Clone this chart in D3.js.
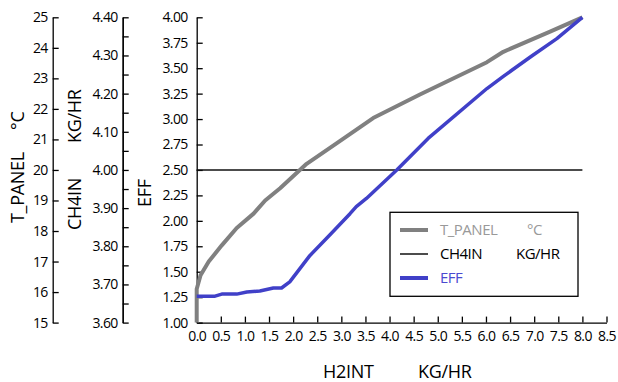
<!DOCTYPE html>
<html><head><meta charset="utf-8">
<script src="https://cdn.jsdelivr.net/npm/d3@7"></script>
<style>
body{margin:0;background:#fff;}
svg text{font-family:"Open Sans","Noto Sans",sans-serif;}
</style></head>
<body><svg id="c" width="618" height="382"></svg>
<script>
// Data
const xTicks = [0,0.5,1,1.5,2,2.5,3,3.5,4,4.5,5,5.5,6,6.5,7,7.5,8,8.5];
const effTicks = [1,1.25,1.5,1.75,2,2.25,2.5,2.75,3,3.25,3.5,3.75,4];
const tTicks = [15,16,17,18,19,20,21,22,23,24,25];
const chMajor = [3.6,3.7,3.8,3.9,4.0,4.1,4.2,4.3,4.4];
const chMinor = [3.65,3.75,3.85,3.95,4.05,4.15,4.25,4.35];

const tpX   = [0, 0, 0.08, 0.25, 0.52, 0.83, 1.18, 1.42, 1.73, 2.28, 2.90, 3.66, 4.63, 6.02, 6.36, 7.33, 8.0];
const tpVal = [15, 16.1, 16.55, 17.0, 17.53, 18.1, 18.57, 19.0, 19.4, 20.2, 20.87, 21.7, 22.47, 23.53, 23.87, 24.53, 25.0];

const chX   = [0, 8.0];
const chVal = [4.0, 4.0];

const effX   = [0, 0.38, 0.52, 0.83, 1.04, 1.31, 1.59, 1.76, 1.93, 2.35, 2.76, 3.18, 3.31, 3.52, 4.15, 4.80, 6.02, 6.36, 6.92, 7.47, 8.0];
const effVal = [1.26, 1.26, 1.28, 1.28, 1.30, 1.31, 1.34, 1.34, 1.40, 1.66, 1.86, 2.07, 2.14, 2.22, 2.50, 2.81, 3.30, 3.42, 3.61, 3.79, 4.0];

(function(){
const svg = d3.select("#c");
const yTop = 17.3, bot = 322.6, x0 = 196.7, x1 = 606.5;
const x = d3.scaleLinear().domain([0,8.5]).range([x0,x1]);
const yE = d3.scaleLinear().domain([1,4]).range([bot,yTop]);
const yT = d3.scaleLinear().domain([15,25]).range([bot,yTop]);
const yC = d3.scaleLinear().domain([3.6,4.4]).range([bot,yTop]);

function style(g){
  g.selectAll("path.domain").attr("stroke","#000").attr("stroke-width",1.3);
  g.selectAll(".tick line").attr("stroke","#000").attr("stroke-width",1.3);
  g.selectAll("text").attr("font-size",14).attr("fill","#000").attr("font-family","'Open Sans',sans-serif").style("letter-spacing","-0.6px");
}

const gx = svg.append("g").attr("transform",`translate(0,${bot})`)
  .call(d3.axisBottom(x).tickValues(xTicks).tickFormat(d3.format(".1f")).tickSize(-6).tickSizeOuter(0).tickPadding(8));
style(gx);

const gy = svg.append("g").attr("transform",`translate(${x0},0)`)
  .call(d3.axisLeft(yE).tickValues(effTicks).tickFormat(d3.format(".2f")).tickSize(-6).tickSizeOuter(0).tickPadding(9));
style(gy);

const gt = svg.append("g").attr("transform",`translate(52.7,0)`)
  .call(d3.axisLeft(yT).tickValues(tTicks).tickFormat(d3.format("d")).tickSize(-6).tickSizeOuter(0).tickPadding(5));
style(gt);

const gc = svg.append("g").attr("transform",`translate(122.7,0)`)
  .call(d3.axisLeft(yC).tickValues(chMajor).tickFormat(d3.format(".2f")).tickSize(-6).tickSizeOuter(0).tickPadding(5));
style(gc);
const gc2 = svg.append("g").attr("transform",`translate(122.7,0)`)
  .call(d3.axisLeft(yC).tickValues(chMinor).tickFormat("").tickSize(-6).tickSizeOuter(0));
style(gc2);

const lineT = d3.line().x((d,i)=>x(tpX[i])).y(d=>yT(d));
const lineC = d3.line().x((d,i)=>x(chX[i])).y(d=>yC(d));
const lineE = d3.line().x((d,i)=>x(effX[i])).y(d=>yE(d));

svg.append("path").attr("d",lineC(chVal)).attr("fill","none").attr("stroke","#111").attr("stroke-width",1.5);
svg.append("path").attr("d",lineT(tpVal)).attr("fill","none").attr("stroke","#808080").attr("stroke-width",4).attr("stroke-linejoin","round");
svg.append("path").attr("d",lineE(effVal)).attr("fill","none").attr("stroke","#4040c8").attr("stroke-width",3.5).attr("stroke-linejoin","round");

function vtext(xp, yp, t){
  svg.append("text").attr("transform",`translate(${xp},${yp}) rotate(-90)`)
    .attr("text-anchor","start").attr("font-size",18).attr("fill","#000").style("letter-spacing","-0.3px").text(t);
}
vtext(24, 223, "T_PANEL");
vtext(24, 130, "°C");
vtext(81, 230, "CH4IN");
vtext(81, 143, "KG/HR");
vtext(151, 207, "EFF");

svg.append("text").attr("x",323).attr("y",378).attr("font-size",18).attr("fill","#000").style("letter-spacing","-0.3px").text("H2INT");
svg.append("text").attr("x",418).attr("y",378).attr("font-size",18).attr("fill","#000").style("letter-spacing","-0.3px").text("KG/HR");

const lg = svg.append("g");
lg.append("rect").attr("x",390).attr("y",212.3).attr("width",188).attr("height",84).attr("fill","#fff").attr("stroke","#000").attr("stroke-width",1.3);
const legItems = [
  {name:"T_PANEL", unit:"°C", ux:527, color:"#808080", tcolor:"#999", w:4, y:230},
  {name:"CH4IN", unit:"KG/HR", ux:516, color:"#111", tcolor:"#000", w:1.5, y:254},
  {name:"EFF", unit:"", ux:0, color:"#4040c8", tcolor:"#4a4ad0", w:4, y:278}
];
legItems.forEach(d=>{
  lg.append("line").attr("x1",400).attr("x2",428).attr("y1",d.y).attr("y2",d.y).attr("stroke",d.color).attr("stroke-width",d.w);
  lg.append("text").attr("x",440).attr("y",d.y+5).attr("font-size",15).attr("fill",d.tcolor).style("letter-spacing","-0.5px").text(d.name);
  if(d.unit) lg.append("text").attr("x",d.ux).attr("y",d.y+5).attr("font-size",15).attr("fill",d.tcolor).style("letter-spacing","-0.5px").text(d.unit);
});
})();
</script></body></html>
